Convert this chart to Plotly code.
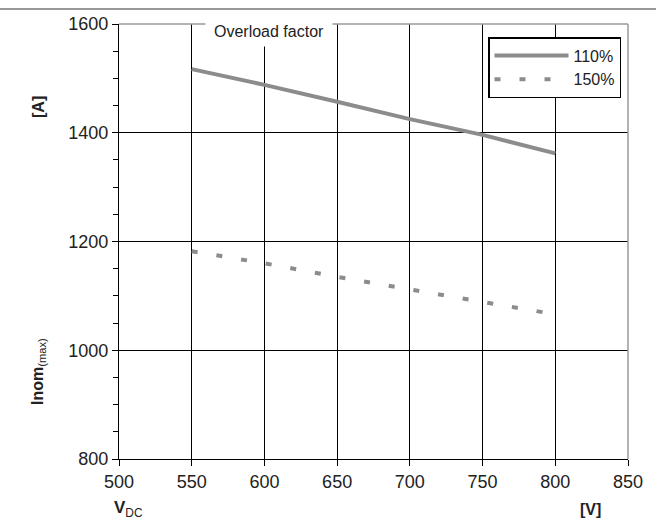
import plotly.graph_objects as go

vdc = [550, 600, 650, 700, 750, 800]
i110 = [1517, 1488, 1457, 1425, 1396, 1362]
i150 = [1182, 1160, 1135, 1112, 1089, 1066]
series_names = ["110%", "150%"]
x_ticks = [500, 550, 600, 650, 700, 750, 800, 850]
y_ticks = [800, 1000, 1200, 1400, 1600]

FONT = "Liberation Sans, Arial, sans-serif"
GREY = "#8c8c8c"

PL, PR, PT, PB = 119, 628, 24, 459  # plot area in page pixels
W, H = 656, 521
pw, ph = PR - PL, PB - PT
L, T = PL, PT
R = W - L - pw
B = H - T - ph


def px(xs):
    return (xs - PL) / pw


def py(ys):
    return (PB - ys) / ph


fig = go.Figure()
fig.add_trace(go.Scatter(x=vdc, y=i110, mode="lines", name=series_names[0], legendgroup="a",
                         line=dict(color=GREY, width=4)))
fig.add_trace(go.Scatter(x=vdc, y=i150, mode="lines", name=series_names[1], legendgroup="b",
                         line=dict(color=GREY, width=4, dash="6px,19px")))

fig.update_layout(
    width=W, height=H,
    margin=dict(l=L, r=R, t=T, b=B),
    paper_bgcolor="white", plot_bgcolor="white",
    font=dict(family=FONT, size=16, color="#222"),
    showlegend=True,
    legend=dict(x=px(488), y=py(37), xanchor="left", yanchor="top",
                bordercolor="black", borderwidth=1.5, bgcolor="white",
                font=dict(size=16, color="#222"), itemwidth=74,
                tracegroupgap=0),
    xaxis=dict(range=[500, 850], tickvals=x_ticks, showgrid=True, gridcolor="black", gridwidth=1.2,
               showline=True, linecolor="black", linewidth=1.2, zeroline=False,
               ticks="outside", ticklen=6, tickcolor="black",
               tickfont=dict(size=18, color="#222"), fixedrange=True),
    yaxis=dict(range=[800, 1600], tickvals=y_ticks, showgrid=True, gridcolor="black", gridwidth=1.2,
               showline=True, linecolor="black", linewidth=1.2, zeroline=False,
               ticks="outside", ticklen=6, tickcolor="black",
               tickfont=dict(size=18, color="#222"),
               minor=dict(dtick=50, ticks="outside", ticklen=5, tickcolor="black", showgrid=False),
               fixedrange=True),
)

# grey plot-area border on top and right
fig.add_shape(type="line", xref="paper", yref="paper", x0=0, x1=1, y0=1, y1=1,
              line=dict(color="#9a9a9a", width=1.5), layer="above")
fig.add_shape(type="line", xref="paper", yref="paper", x0=1, x1=1, y0=0, y1=1,
              line=dict(color="#9a9a9a", width=1.5), layer="above")
# page separator line at very top
fig.add_shape(type="line", xref="paper", yref="paper", x0=px(0), x1=px(656),
              y0=py(9), y1=py(9), line=dict(color="#333", width=1))

# "Overload factor" label with white box
fig.add_annotation(x=px(269), y=py(31), xref="paper", yref="paper", xanchor="center", yanchor="middle",
                   text="Overload factor", showarrow=False, bgcolor="white",
                   width=124, height=28, font=dict(size=16, color="#222"), valign="middle")

# axis labels
fig.add_annotation(x=px(38), y=py(107), xref="paper", yref="paper", xanchor="center", yanchor="middle",
                   text="<b>[A]</b>", showarrow=False, textangle=-90,
                   font=dict(size=16, color="#222"))
fig.add_annotation(x=px(38), y=py(372), xref="paper", yref="paper", xanchor="center", yanchor="middle",
                   text="<b>Inom</b><sub>(max)</sub>", showarrow=False, textangle=-90,
                   font=dict(size=16, color="#222"))
fig.add_annotation(x=px(128), y=py(509), xref="paper", yref="paper", xanchor="center", yanchor="middle",
                   text="<b>V</b><sub>DC</sub>", showarrow=False,
                   font=dict(size=17, color="#222"))
fig.add_annotation(x=px(590), y=py(509), xref="paper", yref="paper", xanchor="center", yanchor="middle",
                   text="<b>[V]</b>", showarrow=False,
                   font=dict(size=16, color="#222"))

fig.write_html("out.html", config={"displayModeBar": False},
               post_script="document.body.style.margin='0px';")
